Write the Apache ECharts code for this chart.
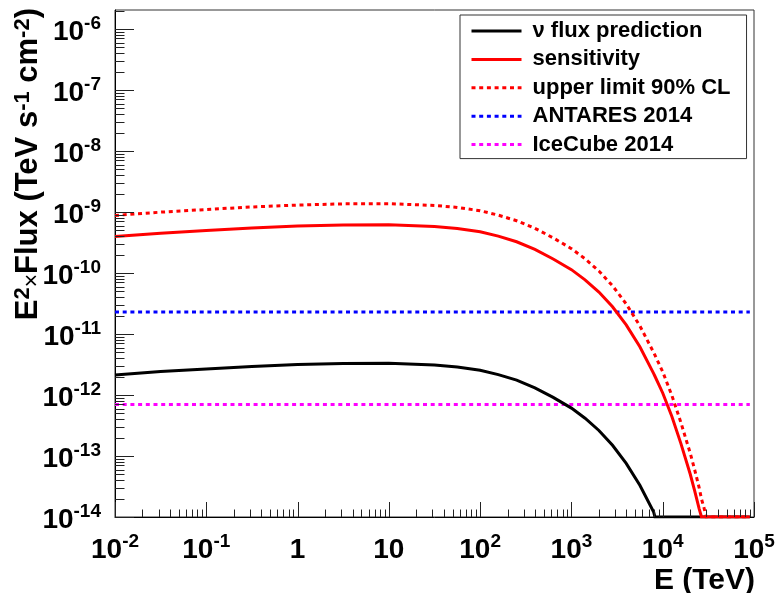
<!DOCTYPE html>
<html>
<head>
<meta charset="utf-8">
<script src="https://cdn.jsdelivr.net/npm/echarts@6/dist/echarts.min.js"></script>
<style>
  html, body { margin: 0; padding: 0; background: #fff; }
  #chart { width: 779px; height: 593px; }
</style>
</head>
<body>
<div id="chart"></div>
<script>
// Neutrino energy grid (TeV)
const energy = [0.01, 0.0316, 0.1, 0.316, 1, 3.16, 10, 31.6, 56.2, 100, 158, 251, 398, 631,
  1000, 1410, 2000, 2820, 3980, 5620, 7940, 8220, 10000, 12600, 15800, 20000, 22400, 25100,
  26600, 28200, 29900, 90000];

// E^2 x Flux (TeV s^-1 cm^-2); points below the plotted range sit on the 1e-14 floor
const nuFlux = [2.13e-12, 2.42e-12, 2.66e-12, 2.93e-12, 3.16e-12, 3.30e-12, 3.32e-12, 3.11e-12,
  2.88e-12, 2.55e-12, 2.16e-12, 1.75e-12, 1.31e-12, 9.14e-13, 6.10e-13, 4.16e-13, 2.62e-13,
  1.50e-13, 7.57e-14, 3.31e-14, 1.22e-14, 1e-14, 1e-14, 1e-14, 1e-14, 1e-14, 1e-14, 1e-14,
  1e-14, 1e-14, 1e-14, 1e-14];

const sensitivity = [3.97e-10, 4.50e-10, 4.96e-10, 5.45e-10, 5.87e-10, 6.15e-10, 6.18e-10, 5.79e-10,
  5.37e-10, 4.75e-10, 4.02e-10, 3.25e-10, 2.44e-10, 1.70e-10, 1.135e-10, 7.74e-11, 4.88e-11,
  2.79e-11, 1.41e-11, 6.17e-12, 2.26e-12, 2.03e-12, 1.08e-12, 4.44e-13, 1.61e-13, 5.07e-14,
  2.69e-14, 1.36e-14, 1e-14, 1e-14, 1e-14, 1e-14];

const upperLimit = [8.79e-10, 9.95e-10, 1.10e-9, 1.21e-9, 1.30e-9, 1.36e-9, 1.37e-9, 1.28e-9,
  1.19e-9, 1.05e-9, 8.89e-10, 7.19e-10, 5.40e-10, 3.77e-10, 2.51e-10, 1.71e-10, 1.08e-10,
  6.17e-11, 3.12e-11, 1.36e-11, 5.01e-12, 4.50e-12, 2.40e-12, 9.82e-13, 3.56e-13, 1.12e-13,
  5.94e-14, 3.01e-14, 1.97e-14, 1.46e-14, 1e-14, 1e-14];

// Published limits drawn as flat levels
const limitEnergy = [0.01, 90000];
const antaresLevel = 2.3e-11;
const icecubeLevel = 7.0e-13;

// Decade ticks and their labels
const xExponents = [-2, -1, 0, 1, 2, 3, 4, 5];
const xTickText = ['10^-2', '10^-1', '1', '10', '10^2', '10^3', '10^4', '10^5'];
const yExponents = [-14, -13, -12, -11, -10, -9, -8, -7, -6];
const yTickText = ['10^-14', '10^-13', '10^-12', '10^-11', '10^-10', '10^-9', '10^-8', '10^-7', '10^-6'];

const seriesNames = ['\u03bd flux prediction', 'sensitivity', 'upper limit 90% CL', 'ANTARES 2014', 'IceCube 2014'];

const X_MIN = 0.01, X_MAX = 1e5, Y_MIN = 1e-14, Y_MAX = 2.05e-6;
const FONT = '"Liberation Sans", Arial, Helvetica, sans-serif';

function pairs(xs, ys) { return xs.map((x, i) => [x, ys[i]]); }

function richLabel(exps, texts) {
  return function (v) {
    const lg = Math.log10(v);
    const e = Math.round(lg);
    if (Math.abs(lg - e) > 1e-6) return '';
    const idx = exps.indexOf(e);
    if (idx < 0) return '';
    const t = texts[idx];
    const parts = t.split('^');
    return parts.length > 1 ? '{b|' + parts[0] + '}{s|' + parts[1] + '}' : '{b|' + t + '}';
  };
}

// Base digits with a raised exponent; supLine sets how high the exponent rides
function labelRich(supLine) {
  return {
    b: { fontFamily: FONT, fontWeight: 'bold', fontSize: 28, lineHeight: 30, padding: [6, 0, 0, 0], color: '#000' },
    s: { fontFamily: FONT, fontWeight: 'bold', fontSize: 19, lineHeight: supLine, verticalAlign: 'top', color: '#000' }
  };
}

// Tick marks in ROOT style: long at decades, short at 2..9
const xTickMarks = [];
xExponents.forEach((e, i) => {
  xTickMarks.push([Math.pow(10, e), Y_MIN, 15]);
  if (i < xExponents.length - 1) {
    for (let k = 2; k <= 9; k++) xTickMarks.push([k * Math.pow(10, e), Y_MIN, 7.5]);
  }
});
const yTickMarks = [];
yExponents.forEach((e) => {
  yTickMarks.push([X_MIN, Math.pow(10, e), 19]);
  for (let k = 2; k <= 9; k++) {
    const v = k * Math.pow(10, e);
    if (v <= Y_MAX) yTickMarks.push([X_MIN, v, 9.5]);
  }
});

function lineSeries(name, data, color, dash, z) {
  return {
    name, type: 'line', data, symbol: 'none', z,
    lineStyle: { color, width: 3, type: dash || 'solid', cap: 'butt', join: 'miter' },
    itemStyle: { color },
    clip: true, animation: false
  };
}

const chart = echarts.init(document.getElementById('chart'), null, { renderer: 'canvas' });
chart.setOption({
  animation: false,
  backgroundColor: '#fff',
  grid: { left: 115, right: 25, top: 10, bottom: 76, show: true, borderColor: '#333', borderWidth: 1, backgroundColor: 'transparent' },
  xAxis: {
    type: 'log', logBase: 10, min: X_MIN, max: X_MAX,
    axisLine: { show: true, lineStyle: { color: '#000', width: 1 } },
    axisTick: { show: false }, minorTick: { show: false }, splitLine: { show: false },
    axisLabel: { margin: 15, formatter: richLabel(xExponents, xTickText), rich: labelRich(21), showMinLabel: true, showMaxLabel: true }
  },
  yAxis: {
    type: 'log', logBase: 10, min: Y_MIN, max: Y_MAX,
    axisLine: { show: true, lineStyle: { color: '#000', width: 1 } },
    axisTick: { show: false }, minorTick: { show: false }, splitLine: { show: false },
    axisLabel: { margin: 14, formatter: richLabel(yExponents, yTickText), rich: labelRich(28), showMinLabel: true, showMaxLabel: false }
  },
  legend: {
    orient: 'vertical', left: 460, top: 15,
    padding: [5, 16, 3, 10], itemGap: 6.4, itemWidth: 50, itemHeight: 14,
    backgroundColor: '#fff', borderColor: '#333', borderWidth: 1, borderRadius: 0,
    lineStyle: { width: 3 },
    itemStyle: { opacity: 0, color: 'rgba(0,0,0,0)', borderWidth: 0 },
    textStyle: { fontFamily: FONT, fontWeight: 'bold', fontSize: 22, color: '#000', padding: [0, 0, 0, 6] },
    data: seriesNames
  },
  graphic: [
    {
      type: 'text', x: 755, y: 581, silent: true,
      style: { text: 'E (TeV)', font: 'bold 30px ' + FONT, fill: '#000', align: 'right', verticalAlign: 'middle' }
    },
    {
      type: 'text', x: 28, y: 8, rotation: Math.PI / 2, silent: true,
      style: {
        text: '{m|E}{u|2}{t|\u00d7}{m|Flux (TeV s}{u|-1}{m| cm}{u|-2}{m|)}',
        align: 'right', verticalAlign: 'middle', fill: '#000',
        rich: {
          m: { fontFamily: FONT, fontWeight: 'bold', fontSize: 31, lineHeight: 32, fill: '#000' },
          u: { fontFamily: FONT, fontWeight: 'bold', fontSize: 22, lineHeight: 18, verticalAlign: 'top', fill: '#000' },
          t: { fontFamily: FONT, fontWeight: 'normal', fontSize: 23, lineHeight: 26, verticalAlign: 'bottom', fill: '#000' }
        }
      }
    }
  ],
  series: [
    lineSeries(seriesNames[0], pairs(energy, nuFlux), '#000000', null, 3),
    lineSeries(seriesNames[1], pairs(energy, sensitivity), '#ff0000', null, 4),
    lineSeries(seriesNames[2], pairs(energy, upperLimit), '#ff0000', [4, 3.7], 4),
    lineSeries(seriesNames[3], limitEnergy.map(e => [e, antaresLevel]), '#0000ff', [4, 3.7], 2),
    lineSeries(seriesNames[4], limitEnergy.map(e => [e, icecubeLevel]), '#ff00ff', [4, 3.7], 2),
    {
      name: 'x ticks', type: 'custom', silent: true, z: 5, data: xTickMarks, clip: false,
      renderItem: (params, api) => {
        const p = api.coord([api.value(0), api.value(1)]);
        const x = Math.round(p[0]) + 0.5;
        return { type: 'line', shape: { x1: x, y1: p[1], x2: x, y2: p[1] - api.value(2) }, style: { stroke: '#222', lineWidth: 1 } };
      }
    },
    {
      name: 'y ticks', type: 'custom', silent: true, z: 5, data: yTickMarks, clip: false,
      renderItem: (params, api) => {
        const p = api.coord([api.value(0), api.value(1)]);
        const y = Math.round(p[1]) + 0.5;
        return { type: 'line', shape: { x1: p[0], y1: y, x2: p[0] + api.value(2), y2: y }, style: { stroke: '#222', lineWidth: 1 } };
      }
    }
  ]
});
</script>
</body>
</html>
